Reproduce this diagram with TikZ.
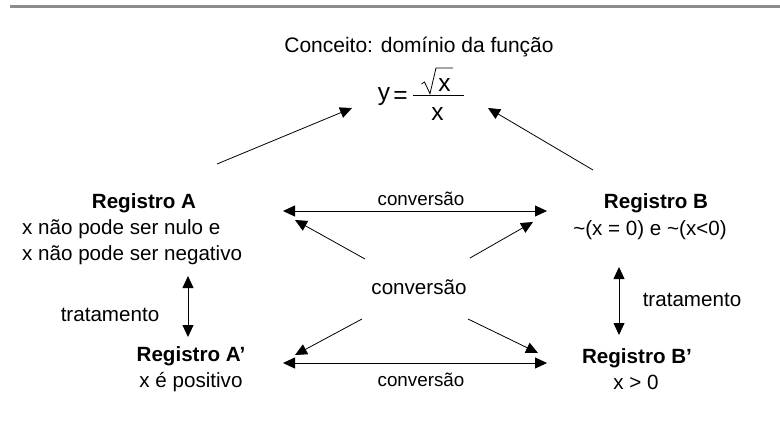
\documentclass[tikz,border=0pt]{standalone}
\usepackage{fontspec}
\setmainfont{Liberation Sans}
\usetikzlibrary{arrows.meta}
\begin{document}
\begin{tikzpicture}[x=1pt,y=-1pt,
  txt/.style={inner sep=0pt,font=\fontsize{20.6}{24}\selectfont},
  small/.style={inner sep=0pt,font=\fontsize{18.8}{22}\selectfont},
  bold/.style={inner sep=0pt,font=\fontsize{20.6}{24}\selectfont\bfseries},
  big/.style={inner sep=0pt,font=\fontsize{24.5}{28}\selectfont},
  arr/.style={-{Triangle[length=12pt,width=11pt]},line width=0.8pt},
  darr/.style={{Triangle[length=12pt,width=11pt]}-{Triangle[length=12pt,width=11pt]},line width=0.8pt}]
\useasboundingbox (0,0) rectangle (780,423);
\coordinate (rl) at (10,6.5);
\coordinate (rr) at (780,6.5);
\draw[line width=2.2pt,color=black!45] (rl) -- (rr);

\node[txt,font=\fontsize{21}{24}\selectfont] (concept) at (419,47) {Conceito: domínio da função};

% formula y = sqrt(x)/x
\node[big,anchor=base] (yv) at (384,100) {y};
\node[big,anchor=base] (eq) at (400.5,103) {=};
\node[big] (num) at (444.5,85.5) {x};
\node[big] (den) at (437.5,114.5) {x};
\coordinate (barL) at (413,95.5); \coordinate (barR) at (464,95.5);
\draw[line width=1pt] (barL) -- (barR);
\coordinate (s1) at (421.5,84); \coordinate (s2) at (424.5,82);
\coordinate (s3) at (430,93.7); \coordinate (s4) at (436,68);
\coordinate (s5) at (453,68);
\draw[line width=0.8pt,line join=miter] (s1) -- (s2) -- (s3) -- (s4) -- (s5);

\node[bold] (rA) at (144,203) {Registro A};
\node[txt,anchor=west] (rA1) at (22,229) {x não pode ser nulo e};
\node[txt,anchor=west] (rA2) at (22,255) {x não pode ser negativo};
\node[txt] (tA) at (110,315) {tratamento};
\node[bold] (rAp) at (191,356) {Registro A’};
\node[txt] (rAp1) at (191,382) {x é positivo};

\node[bold] (rB) at (656,203) {Registro B};
\node[txt] (rB1) at (650,230) {\char"007E(x = 0) e \char"007E(x<0)};
\node[txt] (tB) at (692,300) {tratamento};
\node[bold] (rBp) at (637,358) {Registro B’};
\node[txt] (rBp1) at (636,382) {x > 0};

\node[small] (cTop) at (421,199) {conversão};
\node[txt] (cMid) at (419,287) {conversão};
\node[small] (cBot) at (421,380) {conversão};

% arrows to formula
\coordinate (aS) at (217,164); \coordinate (aE) at (352,108);
\coordinate (bS) at (593,170); \coordinate (bE) at (488,108);
\draw[arr] (aS) -- (aE);
\draw[arr] (bS) -- (bE);

% horizontal conversions
\coordinate (h1L) at (283,211); \coordinate (h1R) at (547,211);
\coordinate (h2L) at (283,363); \coordinate (h2R) at (547,363);
\draw[darr] (h1L) -- (h1R);
\draw[darr] (h2L) -- (h2R);

% diagonal conversions
\coordinate (d1S) at (365,259); \coordinate (d1E) at (295,220);
\coordinate (d2S) at (470,258); \coordinate (d2E) at (533,222);
\coordinate (d3S) at (362,319); \coordinate (d3E) at (295,355);
\coordinate (d4S) at (468,319); \coordinate (d4E) at (538,353);
\draw[arr] (d1S) -- (d1E);
\draw[arr] (d2S) -- (d2E);
\draw[arr] (d3S) -- (d3E);
\draw[arr] (d4S) -- (d4E);

% treatments
\coordinate (vAT) at (188,276); \coordinate (vAB) at (188,337);
\coordinate (vBT) at (619,267); \coordinate (vBB) at (619,335);
\draw[darr] (vAT) -- (vAB);
\draw[darr] (vBT) -- (vBB);
\end{tikzpicture}
\end{document}
